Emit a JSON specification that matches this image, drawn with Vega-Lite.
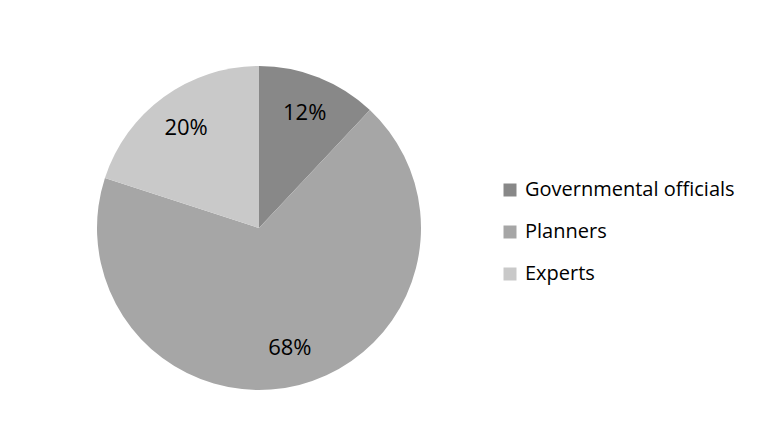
{
  "$schema": "https://vega.github.io/schema/vega-lite/v6.json",
  "autosize": "none",
  "padding": {"left": 0, "top": 0, "right": 254, "bottom": 0},
  "width": 518,
  "height": 456,
  "background": "white",
  "config": {"view": {"stroke": null}, "font": "Open Sans"},
  "data": {"values": [
    {"group": "Governmental officials", "share": 12, "label": "12%", "order": 1},
    {"group": "Planners", "share": 68, "label": "68%", "order": 2},
    {"group": "Experts", "share": 20, "label": "20%", "order": 3}
  ]},
  "encoding": {
    "theta": {"field": "share", "type": "quantitative", "stack": true},
    "order": {"field": "order", "type": "quantitative"}
  },
  "layer": [
    {
      "mark": {"type": "arc", "outerRadius": 162},
      "encoding": {
        "color": {
          "field": "group", "type": "nominal",
          "sort": ["Governmental officials", "Planners", "Experts"],
          "scale": {"domain": ["Governmental officials", "Planners", "Experts"], "range": ["#888888", "#a6a6a6", "#c9c9c9"]},
          "legend": {
            "title": null, "orient": "none", "legendX": 500, "legendY": 180,
            "symbolType": "square", "symbolSize": 169, "symbolStrokeWidth": 0,
            "labelFontSize": 20, "labelColor": "#000000", "labelFont": "Open Sans",
            "rowPadding": 22, "labelOffset": 5, "labelLimit": 400
          }
        }
      }
    },
    {
      "mark": {"type": "text", "radius": 124, "fontSize": 22, "color": "#000000", "font": "Open Sans"},
      "encoding": {"text": {"field": "label"}}
    }
  ]
}
